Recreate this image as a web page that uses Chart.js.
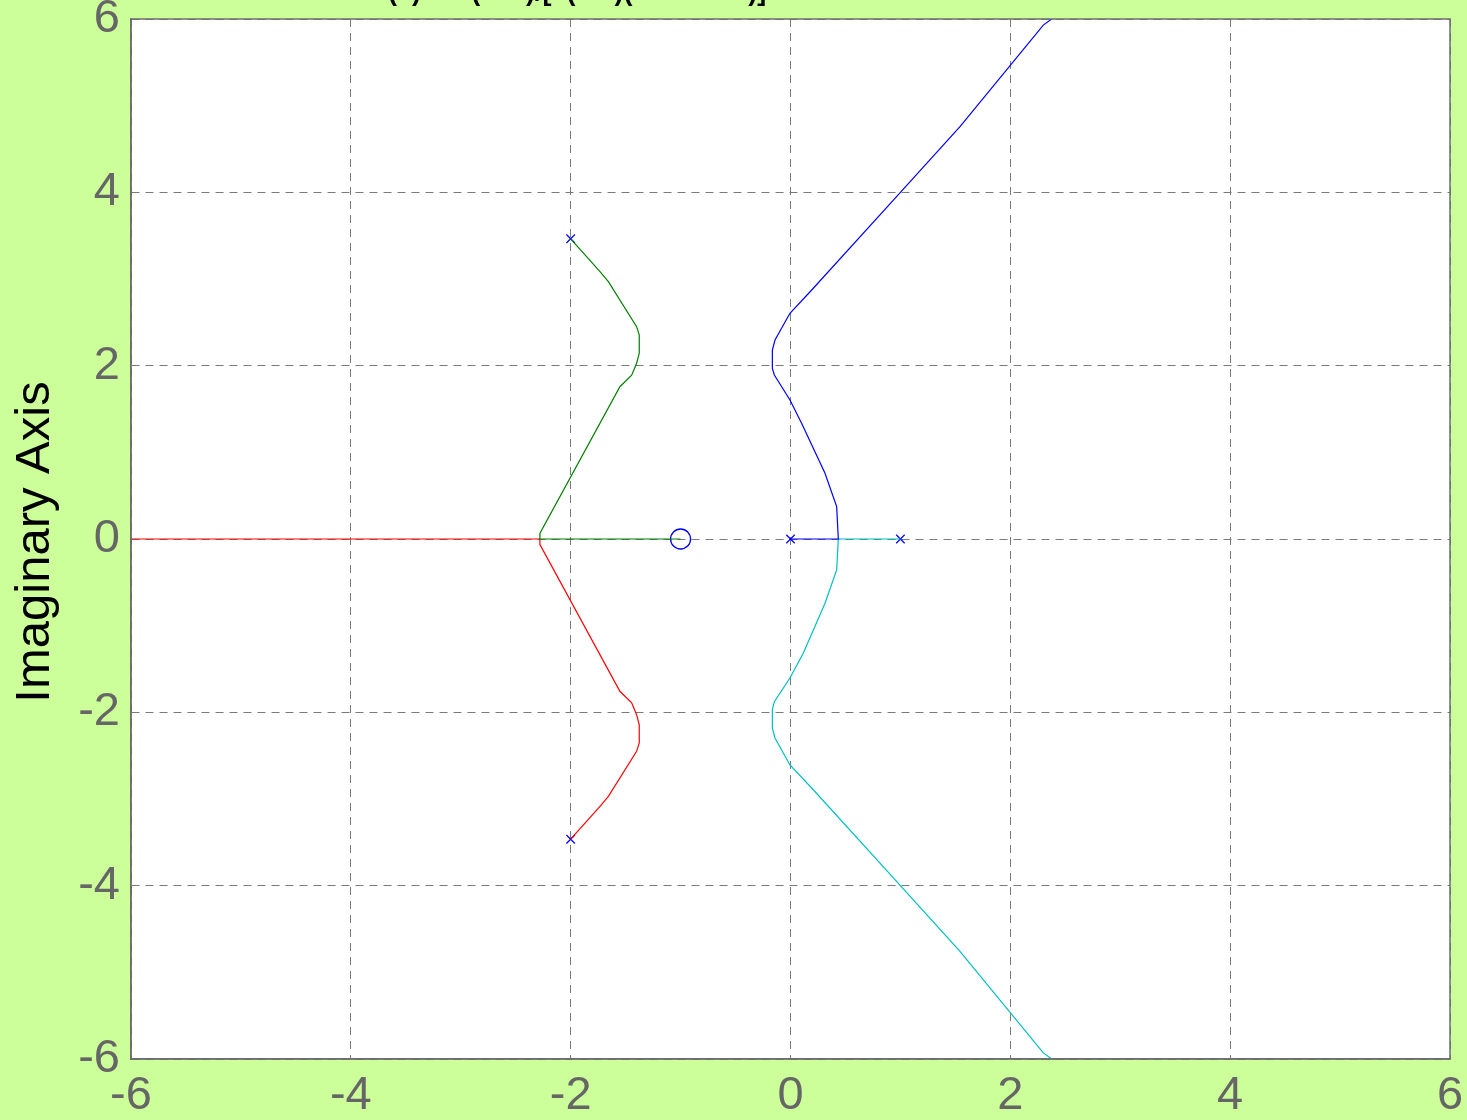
<!DOCTYPE html>
<html>
<head>
<meta charset="utf-8">
<script src="https://cdn.jsdelivr.net/npm/chart.js@4/dist/chart.umd.min.js"></script>
<style>
  html, body { margin: 0; padding: 0; background: #ccff99; }
  canvas { display: block; }
</style>
</head>
<body>
<canvas id="locus" width="1467" height="1120"></canvas>
<script>
// Axis ticks
const xTicks = [-6, -4, -2, 0, 2, 4, 6]
const yTicks = [-6, -4, -2, 0, 2, 4, 6]

// Locus branches
const greenX = [-2.0, -1.733, -1.657, -1.40, -1.376, -1.376, -1.40, -1.445, -1.552, -2.279, -2.28, -1.0]
const greenY = [3.464, 3.085, 2.969, 2.45, 2.354, 2.143, 2.027, 1.89, 1.757, 0.066, 0, 0]

const redX = [-2.0, -1.733, -1.657, -1.40, -1.376, -1.376, -1.40, -1.445, -1.552, -2.279, -2.28, -6.5]
const redY = [-3.464, -3.085, -2.969, -2.45, -2.354, -2.143, -2.027, -1.89, -1.757, -0.066, 0, 0]

const blueX = [0, 0.435, 0.42, 0.314, 0.101, -0.005, -0.147, -0.165, -0.165, -0.141, -0.005, 0.193, 1.0, 1.542, 2.3, 2.42]
const blueY = [0, 0, 0.373, 0.758, 1.335, 1.604, 1.892, 1.969, 2.181, 2.296, 2.604, 2.873, 4.0, 4.758, 5.93, 6.04]

const cyanX = [1.0, 0.435, 0.42, 0.314, 0.116, -0.005, -0.147, -0.165, -0.165, -0.141, -0.005, 0.193, 1.0, 1.542, 2.3, 2.42]
const cyanY = [0, 0, -0.357, -0.742, -1.319, -1.604, -1.877, -1.969, -2.184, -2.296, -2.607, -2.873, -4.0, -4.758, -5.93, -6.04]

// Open-loop poles and zeros
const poleX = [0, 1, -2, -2]
const poleY = [0, 0, 3.464, -3.464]
const zeroX = [-1]
const zeroY = [0]

const titleText = "G(s) = K(s+1)/[s(s-1)(s\u00b2+4s+16)]"
const yTitle = "Imaginary Axis"

const pts = (xs, ys) => xs.map((x, i) => ({ x: x, y: ys[i] }))

const lineSet = (xs, ys, color) => ({
  data: pts(xs, ys),
  showLine: true,
  borderColor: color,
  borderWidth: 1.2,
  pointRadius: 0,
  fill: false,
  tension: 0,
})

// keep the plot box where the reference has it
const noPad = (s) => {
  s.paddingTop = 0
  s.paddingBottom = 0
  s.paddingLeft = 0
  s.paddingRight = 0
}

// background, box and texts outside the axes
const decor = {
  id: "decor",
  beforeDraw(chart) {
    const { ctx, chartArea: a } = chart
    ctx.save()
    ctx.fillStyle = "#ccff99"
    ctx.fillRect(0, 0, chart.width, chart.height)
    ctx.fillStyle = "#ffffff"
    ctx.fillRect(a.left, a.top, a.right - a.left, a.bottom - a.top)
    ctx.restore()
  },
  afterDraw(chart) {
    const { ctx, chartArea: a } = chart
    ctx.save()
    ctx.strokeStyle = "#6e6e6e"
    ctx.lineWidth = 1.5
    ctx.setLineDash([])
    ctx.strokeRect(a.left, a.top, a.right - a.left, a.bottom - a.top)

    // title sits mostly above the page, only descenders show
    ctx.fillStyle = "#000"
    ctx.font = "bold 27px 'Liberation Sans', Arial, sans-serif"
    ctx.textAlign = "left"
    ctx.textBaseline = "alphabetic"
    ctx.fillText(titleText, 367, 0)

    ctx.font = "49px 'Liberation Sans', Arial, sans-serif"
    ctx.translate(35, 542)
    ctx.rotate(-Math.PI / 2)
    ctx.textAlign = "center"
    ctx.textBaseline = "middle"
    ctx.fillText(yTitle, 0, 0)
    ctx.restore()
  },
}

const tickFont = { family: "'Liberation Sans', Arial, sans-serif", size: 47 }

new Chart(document.getElementById("locus"), {
  type: "scatter",
  data: {
    datasets: [
      lineSet(greenX, greenY, "#008000"),
      lineSet(redX, redY, "#ff0000"),
      lineSet(blueX, blueY, "#0000ff"),
      lineSet(cyanX, cyanY, "#00bfbf"),
      {
        data: pts(poleX, poleY),
        pointStyle: "crossRot",
        pointRadius: 6,
        borderColor: "#0000ff",
        borderWidth: 1.2,
      },
      {
        data: pts(zeroX, zeroY),
        pointStyle: "circle",
        pointRadius: 10,
        borderColor: "#0000ff",
        backgroundColor: "rgba(0,0,0,0)",
        borderWidth: 1.3,
      },
    ],
  },
  options: {
    responsive: false,
    devicePixelRatio: 1,
    animation: false,
    layout: { padding: { left: 0, top: 19, right: 17, bottom: 0 } },
    plugins: { legend: { display: false }, tooltip: { enabled: false }, title: { display: false } },
    scales: {
      x: {
        type: "linear",
        min: -6,
        max: 6,
        z: 1,
        afterFit: (s) => { s.height = 61; noPad(s) },
        afterBuildTicks: (s) => { s.ticks = xTicks.map((v) => ({ value: v })) },
        ticks: { color: "#666666", font: tickFont, padding: 9, maxRotation: 0, autoSkip: false },
        grid: { color: "#7a7a7a", lineWidth: 1, drawTicks: false },
        border: { display: true, color: "#6e6e6e", width: 1.5, dash: [8, 6] },
      },
      y: {
        type: "linear",
        min: -6,
        max: 6,
        z: 1,
        afterFit: (s) => { s.width = 131; noPad(s) },
        afterBuildTicks: (s) => { s.ticks = yTicks.map((v) => ({ value: v })) },
        ticks: { color: "#666666", font: tickFont, padding: 11, autoSkip: false },
        grid: { color: "#7a7a7a", lineWidth: 1, drawTicks: false },
        border: { display: true, color: "#6e6e6e", width: 1.5, dash: [8, 6] },
      },
    },
  },
  plugins: [decor],
})
</script>
</body>
</html>
